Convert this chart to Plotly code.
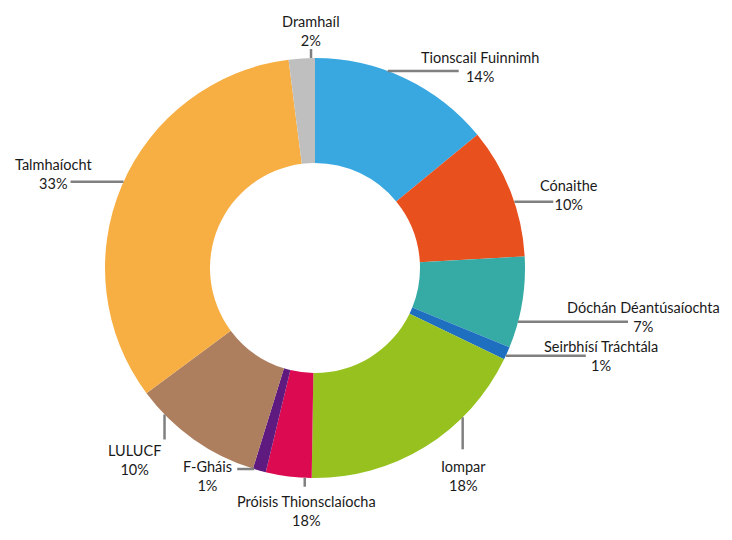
import math
import plotly.graph_objects as go

labels = ['Tionscail Fuinnimh', 'Cónaithe', 'Dóchán Déantúsaíochta', 'Seirbhísí Tráchtála',
          'Iompar', 'Próisis Thionsclaíocha', 'F-Gháis', 'LULUCF', 'Talmhaíocht', 'Dramhaíl']
values = [14, 10, 7, 1, 18, 3.5, 1, 10, 33, 2]
pct_text = ['14%', '10%', '7%', '1%', '18%', '18%', '1%', '10%', '33%', '2%']
colors = ['#3AA8E0', '#E8501E', '#36ABA5', '#1F6FC1', '#96C11F',
          '#DC0A50', '#5E1A7E', '#AD7F5E', '#F7AE43', '#BFBFBF']

# page body keeps an 8px margin, so the figure is 16px smaller than the window
PAGE_PAD = 8
W, H = 732 - 2 * PAGE_PAD, 540 - 2 * PAGE_PAD
CX, CY, R = 315 - PAGE_PAD, 268 - PAGE_PAD, 210  # pie centre and radius in figure pixels

# per label: (position along slice 0..1, leader direction, leader length px, text dx, text dy)
label_layout = [
    (0.40, 'h', 71, 21, -4),
    (0.58, 'h', 39, 16, -7),
    (0.71, 'h', 110, 15, -5),
    (0.70, 'h', 80, 15, 0),
    (0.30, 'v', 32, 1, 27),
    (0.15, 'v', 9, 2, 24),
    (0.90, 'h', -17, -30, 7),
    (0.79, 'v', 25, -30, 21),
    (0.51, 'h', -53, -17, -8),
    (0.85, 'v', -9, 0, -18),
]


def px(x):
    return x / W


def py(y):
    return 1 - y / H


fig = go.Figure(go.Pie(
    labels=labels,
    values=values,
    sort=False,
    direction='clockwise',
    rotation=0,
    hole=0.5,
    textinfo='none',
    marker=dict(colors=colors, line=dict(width=0)),
    showlegend=False,
    domain=dict(x=[px(CX - R), px(CX + R)], y=[py(CY + R), py(CY - R)]),
))

total = sum(values)
start = 0
shapes = []
annotations = []
for lab, pct, val, (f, d, L, tdx, tdy) in zip(labels, pct_text, values, label_layout):
    a0 = start / total * 360
    a1 = (start + val) / total * 360
    start += val
    ang = math.radians(a0 + f * (a1 - a0))
    x0 = CX + R * math.sin(ang)
    y0 = CY - R * math.cos(ang)
    if d == 'h':
        x1, y1 = x0 + L, y0
    else:
        x1, y1 = x0, y0 + L
    shapes.append(dict(type='line', xref='paper', yref='paper',
                       x0=px(x0), y0=py(y0), x1=px(x1), y1=py(y1),
                       line=dict(color='#808080', width=2.5)))
    annotations.append(dict(xref='paper', yref='paper', x=px(x1 + tdx), y=py(y1 + tdy),
                            text=f'{lab}<br>{pct}', showarrow=False,
                            xanchor='center', yanchor='middle', align='center',
                            font=dict(family='Lato', size=14.5, color='#1a1a1a')))

fig.update_layout(
    width=W,
    height=H,
    margin=dict(l=0, r=0, t=0, b=0),
    paper_bgcolor='white',
    plot_bgcolor='white',
    shapes=shapes,
    annotations=annotations,
)

fig.write_html("out.html")
